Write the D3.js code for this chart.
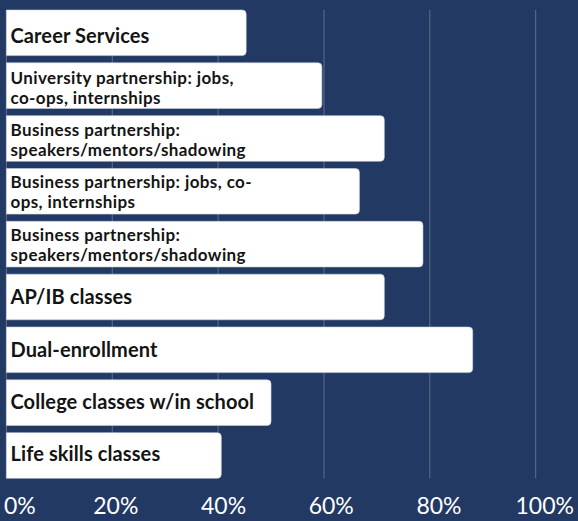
<!DOCTYPE html>
<html>
<head>
<meta charset="utf-8">
<script src="https://cdn.jsdelivr.net/npm/d3@7"></script>
<style>
  html, body { margin: 0; padding: 0; background: #223963; }
  svg { display: block; }
</style>
</head>
<body>
<svg id="chart" width="578" height="521"></svg>
<script>
// Category labels, already broken into display lines
const categoryLines = [
  ["Career Services"],
  ["University partnership: jobs,", "co-ops, internships"],
  ["Business partnership:", "speakers/mentors/shadowing"],
  ["Business partnership: jobs, co-", "ops, internships"],
  ["Business partnership:", "speakers/mentors/shadowing"],
  ["AP/IB classes"],
  ["Dual-enrollment"],
  ["College classes w/in school"],
  ["Life skills classes"]
];

// Share of respondents (%)
const values = [45.3, 59.6, 71.4, 66.7, 78.7, 71.4, 88.1, 50.0, 40.6];

// Axis ticks
const tickValues = [0, 20, 40, 60, 80, 100];
const tickLabels = ["0%", "20%", "40%", "60%", "80%", "100%"];

const W = 578, H = 521;
const svg = d3.select("#chart");
const idx = d3.range(values.length);

const x = d3.scaleLinear().domain([0, 100]).range([6.4, 535.7]);
const y = d3.scaleBand().domain(idx).range([10, 478.3]).paddingInner(0.137).paddingOuter(0);

// Label baselines run on their own point scale
const yLabel = d3.scalePoint().domain(idx).range([43.3, 461]);
// Tick label centres
const xLabel = d3.scaleLinear().domain([0, 100]).range([8.1, 546.7]);

// Gridlines
svg.append("g")
  .selectAll("line")
  .data(tickValues)
  .join("line")
  .attr("x1", d => x(d)).attr("x2", d => x(d))
  .attr("y1", y.range()[0]).attr("y2", y.range()[1])
  .attr("stroke", "rgba(255,255,255,0.28)")
  .attr("stroke-width", 1);

// Bars: square on the baseline, rounded at the value end
const r = 4;
function barPath(i) {
  const x0 = x(0), x1 = x(values[i]), y0 = y(i), y1 = y(i) + y.bandwidth();
  return `M${x0},${y0}H${x1 - r}Q${x1},${y0} ${x1},${y0 + r}V${y1 - r}Q${x1},${y1} ${x1 - r},${y1}H${x0}Z`;
}
svg.append("g")
  .selectAll("path")
  .data(idx)
  .join("path")
  .attr("d", barPath)
  .attr("fill", "#ffffff")
  .attr("stroke", "#c9d0dc")
  .attr("stroke-width", 0.6);

// Category labels inside the bars
const labels = svg.append("g")
  .attr("font-family", "Lato, 'Open Sans', sans-serif")
  .attr("font-weight", 700)
  .attr("fill", "#141414");

labels.selectAll("text")
  .data(idx)
  .join("text")
  .attr("x", 10.5)
  .attr("font-size", i => categoryLines[i].length > 1 ? 17 : 20)
  .attr("letter-spacing", i => categoryLines[i].length > 1 ? 0.4 : 0.1)
  .each(function (i) {
    const lines = categoryLines[i];
    const t = d3.select(this);
    if (lines.length === 1) {
      t.append("tspan").attr("x", 10.5).attr("y", yLabel(i)).text(lines[0]);
    } else {
      t.append("tspan").attr("x", 10.5).attr("y", yLabel(i) - 11.5).text(lines[0]);
      t.append("tspan").attr("x", 10.5).attr("y", yLabel(i) + 8.5).text(lines[1]);
    }
  });

// Percentage tick labels, kept inside the frame
const ticks = svg.append("g")
  .attr("font-family", "Lato, 'Open Sans', sans-serif")
  .attr("font-size", 23)
  .attr("fill", "#ffffff");

ticks.selectAll("text")
  .data(tickValues)
  .join("text")
  .attr("y", 514)
  .attr("text-anchor", "middle")
  .attr("x", d => xLabel(d))
  .text((d, i) => tickLabels[i])
  .each(function (d) {
    const w = this.getComputedTextLength();
    const cx = xLabel(d);
    if (cx - w / 2 < 4) d3.select(this).attr("text-anchor", "start").attr("x", 4);
    else if (cx + w / 2 > 574) d3.select(this).attr("text-anchor", "end").attr("x", 574);
  });
</script>
</body>
</html>
